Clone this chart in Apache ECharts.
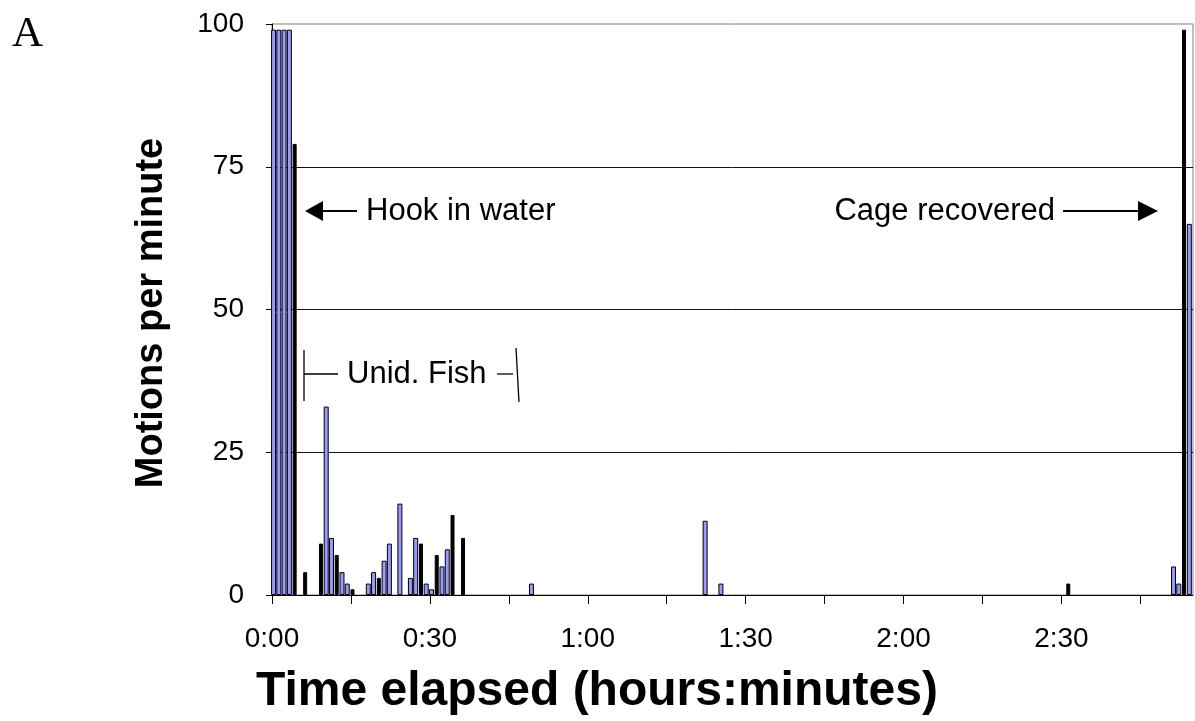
<!DOCTYPE html>
<html><head><meta charset="utf-8">
<script src="https://cdn.jsdelivr.net/npm/echarts@6/dist/echarts.min.js"></script>
<style>html,body{margin:0;padding:0;background:#fff}#c{width:1195px;height:721px}</style>
</head><body><div id="c"></div>
<script>
// ---- data (minute index, motions per minute) ----
const BLUE_MINUTES = [0, 1, 2, 3, 10, 11, 13, 14, 18, 19, 21, 22, 24, 26, 27, 29, 30, 32, 33, 49, 82, 85, 171, 172, 174];
const BLUE_VALUES  = [99, 99, 99, 99, 33, 10, 4, 2, 2, 4, 6, 9, 16, 3, 10, 2, 1, 5, 8, 2, 13, 2, 5, 2, 65];
const BLACK_MINUTES = [4, 6, 9, 12, 15, 20, 28, 31, 34, 36, 151, 173];
const BLACK_VALUES  = [79, 4, 9, 7, 1, 3, 9, 7, 14, 10, 2, 99];
const X_TICK_MINUTES = [0, 15, 30, 45, 60, 75, 90, 105, 120, 135, 150, 165];
const X_LABEL_MINUTES = [0, 30, 60, 90, 120, 150];

const BAR_CENTER = 0.3; // bars sit inside their minute slot
const pair = (ms, vs) => ms.map((m, i) => [m + BAR_CENTER, vs[i]]);
const fmt = v => Math.floor(v / 60) + ':' + String(v % 60).padStart(2, '0');

const FONT = '"Liberation Sans", Arial, sans-serif';
const chart = echarts.init(document.getElementById('c'), null, {renderer: 'canvas'});

const L = 272, T = 24, R = 2, B = 126;

chart.setOption({
  animation: false,
  backgroundColor: '#fff',
  grid: {left: L, top: T, right: R, bottom: B, show: true, borderColor: '#808080', borderWidth: 1, backgroundColor: 'transparent'},
  xAxis: [{
    type: 'value', min: 0, max: 175,
    axisLine: {show: true, onZero: false, lineStyle: {color: '#000', width: 1}},
    axisTick: {show: true, inside: false, length: 9, customValues: X_TICK_MINUTES, lineStyle: {color: '#000', width: 1}},
    axisLabel: {customValues: X_LABEL_MINUTES, formatter: v => fmt(v), fontFamily: FONT, fontSize: 28, color: '#000', margin: 30},
    splitLine: {show: false}
  }, {
    type: 'value', min: 0, max: 175, show: false, position: 'bottom'
  }],
  yAxis: {
    type: 'value', min: 0, max: 100, interval: 25,
    axisLine: {show: true, lineStyle: {color: '#000', width: 1}},
    axisTick: {show: true, inside: false, length: 6, lineStyle: {color: '#000'}},
    axisLabel: {fontFamily: FONT, fontSize: 28, color: '#000', margin: 28},
    splitLine: {show: true, showMinLine: false, showMaxLine: false, lineStyle: {color: '#111', width: 1}}
  },
  series: [
    {type: 'bar', name: 'blue', xAxisIndex: 0, data: pair(BLUE_MINUTES, BLUE_VALUES), barWidth: 5,
     itemStyle: {color: '#9999FF', borderColor: '#000', borderWidth: 1}},
    {type: 'bar', name: 'black', xAxisIndex: 1, data: pair(BLACK_MINUTES, BLACK_VALUES), barWidth: 4,
     itemStyle: {color: '#000', borderColor: '#000', borderWidth: 1}}
  ],
  graphic: [
    {type: 'text', left: 12, top: 13, style: {text: 'A', font: '43px "Liberation Serif", "Times New Roman", serif', fill: '#000'}},
    {type: 'text', x: 152, y: 313, rotation: Math.PI / 2,
     style: {text: 'Motions per minute', font: 'bold 38px ' + FONT, fill: '#000', textAlign: 'center', textVerticalAlign: 'middle'}},
    {type: 'text', x: 597, y: 692,
     style: {text: 'Time elapsed (hours:minutes)', font: 'bold 48px ' + FONT, fill: '#000', textAlign: 'center', textVerticalAlign: 'middle'}},
    // Hook in water
    {type: 'polygon', shape: {points: [[305, 211], [323, 201], [323, 221]]}, style: {fill: '#000'}},
    {type: 'line', shape: {x1: 322, y1: 211, x2: 357, y2: 211}, style: {stroke: '#000', lineWidth: 2}},
    {type: 'text', x: 366, y: 211, style: {text: 'Hook in water', font: '31px ' + FONT, fill: '#000', textAlign: 'left', textVerticalAlign: 'middle'}},
    // Cage recovered
    {type: 'text', x: 1055, y: 211, style: {text: 'Cage recovered', font: '31px ' + FONT, fill: '#000', textAlign: 'right', textVerticalAlign: 'middle'}},
    {type: 'line', shape: {x1: 1063, y1: 211, x2: 1140, y2: 211}, style: {stroke: '#000', lineWidth: 2}},
    {type: 'polygon', shape: {points: [[1158, 211], [1138, 201], [1138, 221]]}, style: {fill: '#000'}},
    // Unid. Fish bracket
    {type: 'line', shape: {x1: 304, y1: 350, x2: 304, y2: 401}, style: {stroke: '#000', lineWidth: 1.3}},
    {type: 'line', shape: {x1: 304, y1: 374, x2: 338, y2: 374}, style: {stroke: '#000', lineWidth: 1.3}},
    {type: 'text', x: 347, y: 374, style: {text: 'Unid. Fish', font: '31px ' + FONT, fill: '#000', textAlign: 'left', textVerticalAlign: 'middle'}},
    {type: 'line', shape: {x1: 497, y1: 374, x2: 513, y2: 374}, style: {stroke: '#000', lineWidth: 1.3}},
    {type: 'line', shape: {x1: 516, y1: 348, x2: 519, y2: 402}, style: {stroke: '#000', lineWidth: 1.3}}
  ]
});
</script></body></html>
